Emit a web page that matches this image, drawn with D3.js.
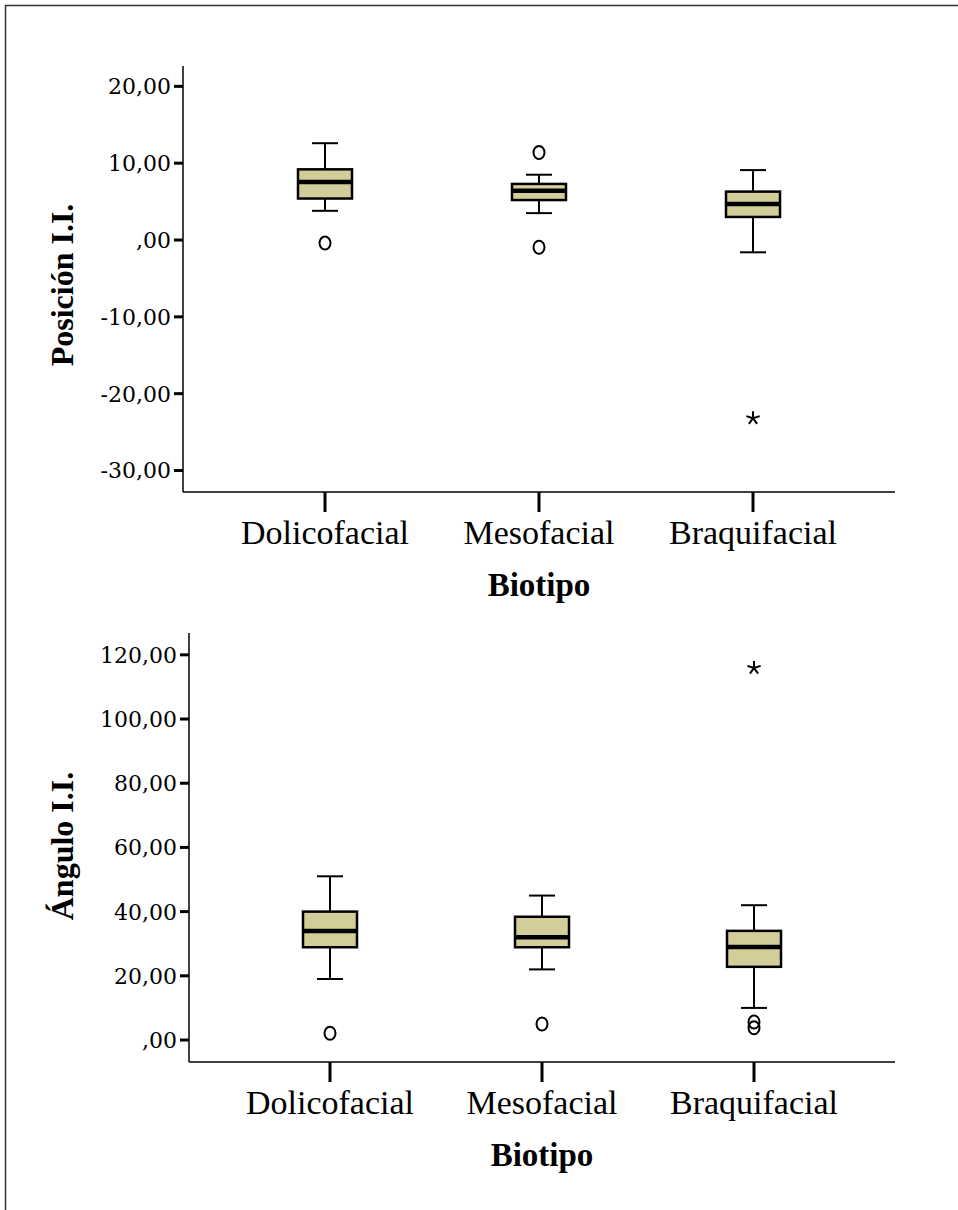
<!DOCTYPE html>
<html>
<head>
<meta charset="utf-8">
<script src="https://cdn.jsdelivr.net/npm/d3@7"></script>
<style>
  body { margin: 0; background: #fff; }
  text { font-family: "Liberation Serif", "DejaVu Serif", serif; fill: #000; }
</style>
</head>
<body>
<div id="chart-area"></div>
<script>
var categories = ["Dolicofacial", "Mesofacial", "Braquifacial"];

// Posición I.I. : [low whisker, Q1, median, Q3, high whisker]
var posicionBoxes = [
  [3.8, 5.4, 7.55, 9.2, 12.6],
  [3.5, 5.2, 6.4, 7.3, 8.5],
  [-1.6, 3.0, 4.7, 6.3, 9.1]
];
var posicionOutliers = [[-0.4], [11.4, -0.95], []];
var posicionExtremes = [[], [], [-23.2]];
var posicionTicks = [20, 10, 0, -10, -20, -30];

// Ángulo I.I.
var anguloBoxes = [
  [19, 28.9, 34, 40, 51],
  [22, 28.9, 32, 38.4, 45],
  [10, 22.8, 29, 34, 42]
];
var anguloOutliers = [[2.1], [5], [5.6, 3.8]];
var anguloExtremes = [[], [], [115.9]];
var anguloTicks = [120, 100, 80, 60, 40, 20, 0];

var svg = d3.select("#chart-area")
  .append("svg")
  .attr("width", 958)
  .attr("height", 1210);

// outer frame (top and left edges only)
svg.append("path")
  .attr("d", "M5.5,1210 L5.5,5.5 L958,5.5")
  .attr("fill", "none")
  .attr("stroke", "#333")
  .attr("stroke-width", 1.5);

function fmt(v) {
  if (v === 0) return ",00";
  return d3.format(".2f")(v).replace(".", ",").replace("\u2212", "-");
}

function drawPanel(opt) {
  var g = svg.append("g");

  var y = d3.scaleLinear()
    .domain(opt.yDomain)
    .range([opt.bottom, opt.top]);

  var x = d3.scalePoint()
    .domain(categories)
    .range([opt.centers[0], opt.centers[1]]);

  // axes lines
  g.append("line")
    .attr("x1", opt.left).attr("x2", opt.left)
    .attr("y1", opt.top).attr("y2", opt.bottom)
    .attr("stroke", "#000").attr("stroke-width", 1.5);
  g.append("line")
    .attr("x1", opt.left).attr("x2", opt.right)
    .attr("y1", opt.bottom).attr("y2", opt.bottom)
    .attr("stroke", "#000").attr("stroke-width", 1.5);

  // y ticks
  g.selectAll(".ytick")
    .data(opt.ticks)
    .enter()
    .append("line")
    .attr("x1", opt.left - 9).attr("x2", opt.left)
    .attr("y1", function(d) { return y(d); })
    .attr("y2", function(d) { return y(d); })
    .attr("stroke", "#000").attr("stroke-width", 3);

  g.selectAll(".ylab")
    .data(opt.ticks)
    .enter()
    .append("text")
    .attr("x", opt.left - 12)
    .attr("y", function(d) { return y(d); })
    .attr("dy", "0.36em")
    .attr("text-anchor", "end")
    .style("font-family", "'DejaVu Serif', serif")
    .style("font-size", "22px")
    .text(fmt);

  // x ticks
  g.selectAll(".xtick")
    .data(categories)
    .enter()
    .append("line")
    .attr("x1", function(d) { return x(d); })
    .attr("x2", function(d) { return x(d); })
    .attr("y1", opt.bottom).attr("y2", opt.bottom + 20)
    .attr("stroke", "#000").attr("stroke-width", 3);

  g.selectAll(".xlab")
    .data(categories)
    .enter()
    .append("text")
    .attr("x", function(d) { return x(d); })
    .attr("y", opt.bottom + 52)
    .attr("text-anchor", "middle")
    .style("font-size", "34px")
    .text(function(d) { return d; });

  g.append("text")
    .attr("x", (opt.centers[0] + opt.centers[1]) / 2)
    .attr("y", opt.bottom + 104)
    .attr("text-anchor", "middle")
    .style("font-size", "33px")
    .style("font-weight", "bold")
    .text("Biotipo");

  g.append("text")
    .attr("transform", "translate(73," + opt.titleY + ") rotate(-90)")
    .attr("text-anchor", "middle")
    .style("font-size", "32px")
    .style("font-weight", "bold")
    .text(opt.title);

  var boxW = 54, capW = 26;

  var box = g.selectAll(".box")
    .data(opt.boxes)
    .enter()
    .append("g");

  box.append("line")
    .attr("x1", function(d, i) { return x(categories[i]); })
    .attr("x2", function(d, i) { return x(categories[i]); })
    .attr("y1", function(d) { return y(d[0]); })
    .attr("y2", function(d) { return y(d[4]); })
    .attr("stroke", "#000").attr("stroke-width", 2);

  box.append("line")
    .attr("x1", function(d, i) { return x(categories[i]) - capW / 2; })
    .attr("x2", function(d, i) { return x(categories[i]) + capW / 2; })
    .attr("y1", function(d) { return y(d[0]); })
    .attr("y2", function(d) { return y(d[0]); })
    .attr("stroke", "#000").attr("stroke-width", 2);

  box.append("line")
    .attr("x1", function(d, i) { return x(categories[i]) - capW / 2; })
    .attr("x2", function(d, i) { return x(categories[i]) + capW / 2; })
    .attr("y1", function(d) { return y(d[4]); })
    .attr("y2", function(d) { return y(d[4]); })
    .attr("stroke", "#000").attr("stroke-width", 2);

  box.append("rect")
    .attr("x", function(d, i) { return x(categories[i]) - boxW / 2; })
    .attr("y", function(d) { return y(d[3]); })
    .attr("width", boxW)
    .attr("height", function(d) { return y(d[1]) - y(d[3]); })
    .attr("fill", "#d3ce99")
    .attr("stroke", "#000")
    .attr("stroke-width", 2.5);

  box.append("line")
    .attr("x1", function(d, i) { return x(categories[i]) - boxW / 2; })
    .attr("x2", function(d, i) { return x(categories[i]) + boxW / 2; })
    .attr("y1", function(d) { return y(d[2]); })
    .attr("y2", function(d) { return y(d[2]); })
    .attr("stroke", "#000").attr("stroke-width", 4.5);

  // outliers
  var outs = [];
  opt.outliers.forEach(function(list, i) {
    list.forEach(function(v) { outs.push({ cat: categories[i], v: v }); });
  });
  g.selectAll(".out")
    .data(outs)
    .enter()
    .append("ellipse")
    .attr("cx", function(d) { return x(d.cat); })
    .attr("cy", function(d) { return y(d.v); })
    .attr("rx", 5.5).attr("ry", 6.5)
    .attr("fill", "none")
    .attr("stroke", "#000")
    .attr("stroke-width", 2);

  var ext = [];
  opt.extremes.forEach(function(list, i) {
    list.forEach(function(v) { ext.push({ cat: categories[i], v: v }); });
  });
  var star = d3.range(5).map(function(k) {
    var a = -Math.PI / 2 + k * 2 * Math.PI / 5;
    return "M0,0L" + (7 * Math.cos(a)).toFixed(2) + "," + (7 * Math.sin(a)).toFixed(2);
  }).join("");
  g.selectAll(".ext")
    .data(ext)
    .enter()
    .append("path")
    .attr("transform", function(d) { return "translate(" + x(d.cat) + "," + y(d.v) + ")"; })
    .attr("d", star)
    .attr("fill", "none")
    .attr("stroke", "#000")
    .attr("stroke-width", 2);
}

drawPanel({
  title: "Posición I.I.",
  titleY: 285,
  yDomain: [-32.8, 22.65],
  top: 66, bottom: 492,
  left: 183, right: 895,
  centers: [325, 753],
  ticks: posicionTicks,
  boxes: posicionBoxes,
  outliers: posicionOutliers,
  extremes: posicionExtremes
});

drawPanel({
  title: "Ángulo I.I.",
  titleY: 846,
  yDomain: [-6.85, 126.8],
  top: 633, bottom: 1062,
  left: 189, right: 895,
  centers: [330, 754],
  ticks: anguloTicks,
  boxes: anguloBoxes,
  outliers: anguloOutliers,
  extremes: anguloExtremes
});
</script>
</body>
</html>
